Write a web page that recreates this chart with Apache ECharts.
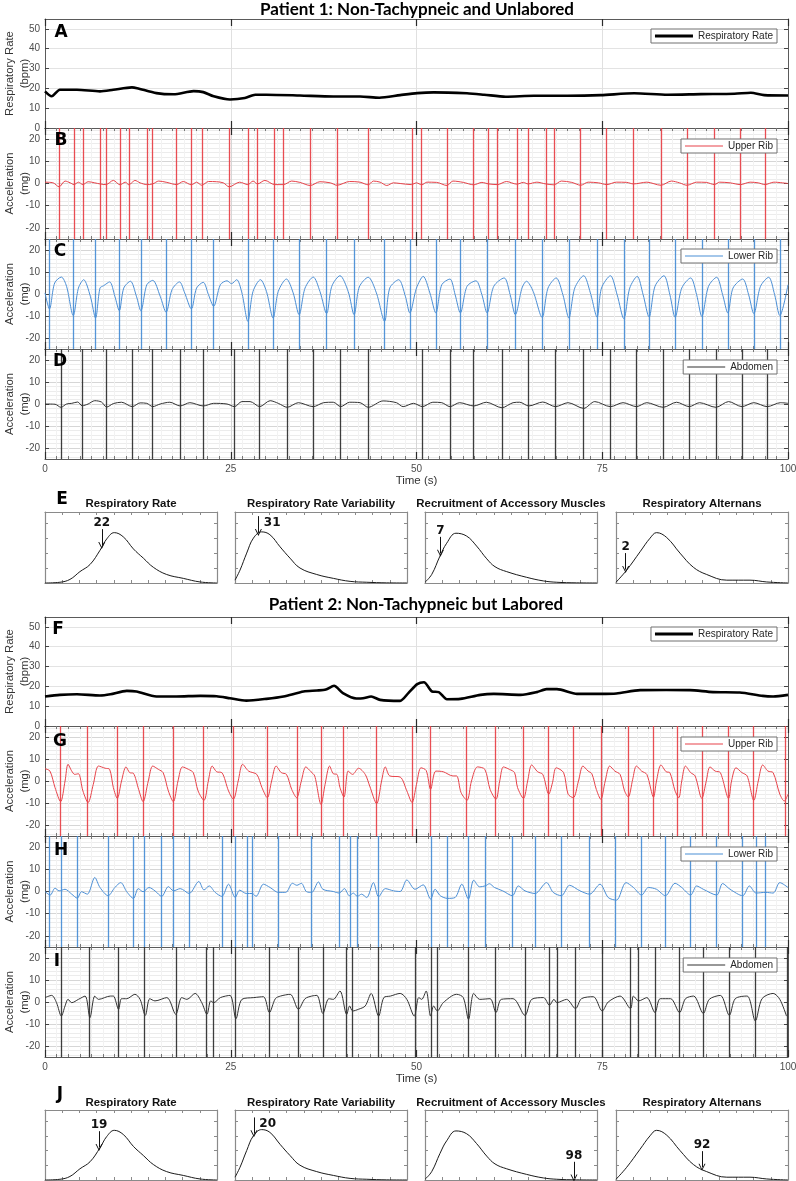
<!DOCTYPE html>
<html><head><meta charset="utf-8">
<script src="https://cdn.jsdelivr.net/npm/echarts@6/dist/echarts.min.js"></script>
<style>html,body{margin:0;padding:0;background:#fff}#c{width:796px;height:1181px}</style>
</head><body><div id="c"></div>
<script>
// ================= DATA =================
const timeTicks = [0, 25, 50, 75, 100];
const rrTicks = [0, 10, 20, 30, 40, 50];
const accTicks = [-20, -10, 0, 10, 20];

// Patient 1
const p1RespRate = [[0,18.5],[0.9,16],[2,19.3],[4.3,19.3],[7.4,18.5],[9.2,19.3],[11.7,20.5],[12.4,20.1],[15,17.6],[17.3,17],[20,18.6],[21.3,18.1],[22.7,16],[24.9,14.4],[26.9,15.1],[28.3,16.8],[29.8,16.8],[34.3,16.4],[38.8,15.9],[42.4,15.9],[45,15.3],[47.8,16.6],[50.1,17.6],[52.3,18],[56.8,17.5],[59.1,16.8],[62,15.8],[65.8,16.3],[70.3,16.3],[74.8,16.6],[79.3,17.5],[83.8,16.8],[88.3,17.1],[92.8,17.3],[95,17.8],[96.8,16.6],[100,16.4]];
const p1UpperRib = [[0,0.6],[1.1,0.3],[1.9,-1.5],[2.7,1.1],[3.4,0.3],[3.9,-0.5],[4.5,0.6],[5.1,-0.5],[5.8,0.8],[6.7,0.3],[7.4,-0.2],[8.2,-0.5],[9.2,1.4],[10.1,-0.6],[10.8,0.6],[11.3,-0.6],[12.1,1.4],[12.8,0.3],[13.7,-0.5],[14.5,-0.2],[15.3,1.1],[16.4,0.5],[17.7,-0.5],[18.6,0.9],[19.7,-0.6],[20.4,0.6],[21.1,-0.8],[22,0.9],[23.1,0.8],[24,0.3],[24.8,-1.5],[26.2,0.6],[27.3,-0.5],[28,1.1],[28.6,-0.2],[29.6,1.4],[30.9,-0.5],[32.1,-0.5],[33.2,1.1],[34.3,0.5],[35.7,-0.9],[37,0.8],[38.4,0.3],[39.3,-0.8],[41,0.9],[42.4,0.6],[43.5,-0.6],[44.2,1.1],[45.1,0.6],[46,-0.9],[46.9,0.3],[47.8,0],[49.3,-0.5],[50,0.3],[50.7,-0.6],[51.4,0.6],[52.7,0.5],[54.1,-0.9],[54.9,1.1],[56.3,0.5],[57.7,-0.6],[58.8,0.5],[59.7,-0.2],[60.9,-0.5],[62.1,0.9],[63.5,-0.3],[64.4,0.5],[65,-0.2],[66.2,0.6],[67.4,-0.2],[68.5,-0.6],[69.5,1.1],[70.9,0.5],[72.1,-0.8],[73.1,0.6],[74.5,0.3],[75.6,-0.5],[76.9,0.6],[78.3,0.5],[79.2,-0.2],[81,0.6],[82.9,-0.8],[84.3,1.1],[85.4,0.3],[86.4,-0.8],[87.7,0.6],[89,0.5],[90.1,-0.5],[90.8,0.6],[92.2,0.3],[93.6,-0.5],[94.9,0.6],[96,0.3],[96.9,-0.5],[98.1,0.6],[100,0]];
const p1UpperRibBreaths = [1.9,3.9,5.1,7.4,8.2,10.1,11.3,13.7,14.5,17.7,19.7,21.1,24.8,27.3,28.6,30.9,32.1,35.7,39.3,43.5,49.4,50.7,54.1,57.7,59.7,60.9,63.5,65.1,67.4,68.5,72.1,75.6,79.2,82.9,86.4,90.1,93.6,96.9];
const p1LowerRib = [[0,0.5],[0.6,-6.8],[1.3,5],[2.2,7.7],[2.9,3.5],[3.8,-9.8],[4.5,2.7],[5.2,6.5],[6.1,-1],[6.8,-10.9],[7.4,2.7],[7.9,3.8],[8.7,5.5],[9.4,-1],[10,-7.6],[10.6,2.7],[11.5,5.8],[12.3,-1],[12.9,-7.6],[13.7,4.2],[14.5,6.2],[15.5,-1],[16.3,-8.3],[17.1,2],[18.1,5.5],[18.8,0.5],[19.7,-6.8],[20.4,2.7],[21.3,5.3],[22,-0.3],[22.7,-5.6],[23.6,4.2],[24.5,6],[25.1,4.7],[25.8,6.5],[26.5,0.5],[27.3,-12.4],[28,1.2],[29,6.5],[29.8,1.2],[30.7,-10.9],[31.4,1.2],[32.5,6.8],[33.4,0.5],[34.2,-9.4],[35,2.7],[36.1,7.7],[37,1.2],[37.9,-8.9],[38.6,3.5],[39.7,8.3],[40.8,1.2],[41.6,-9.4],[42.3,3.2],[43.5,7.6],[44.6,0.5],[45.7,-12.4],[46.4,2.7],[47.6,6.5],[48.5,-1],[49.1,-8.6],[50,2.7],[50.9,8],[51.8,0.5],[52.6,-8.6],[53.4,4.2],[54.5,6.8],[55.2,-0.3],[55.9,-8.6],[56.8,3.5],[58,6],[58.8,-0.3],[59.5,-8.6],[60.4,3.5],[61.8,7.3],[62.6,-0.3],[63.3,-9.4],[64.2,2.7],[64.8,5.8],[65.7,1.2],[66.9,-10.6],[67.7,2.7],[68.8,7.3],[69.7,-0.3],[70.5,-10.9],[71.3,2.7],[72.5,8.3],[73.4,0.5],[74.3,-10.5],[74.9,2.7],[76.1,8.3],[77,-0.3],[77.9,-11.2],[78.7,2.7],[79.7,8],[80.5,-0.3],[81.3,-10.5],[82.1,3.5],[83.3,8.3],[84.1,-0.3],[84.8,-10.6],[85.7,2.7],[86.9,7.3],[87.7,-0.3],[88.4,-10.2],[89.3,3.5],[90.4,7.6],[91.2,-0.3],[91.9,-8.6],[92.6,2.7],[93.9,6.8],[94.7,-0.3],[95.4,-8.9],[96.3,3.5],[97.4,7.6],[98.2,-0.3],[98.9,-9.8],[100,4.2]];
const p1LowerRibBreaths = [0.6,3.8,6.8,10,12.9,16.3,19.7,22.7,27.3,30.7,34.2,37.9,41.6,45.7,49.1,52.6,55.9,59.5,63.3,66.9,70.5,74.3,77.9,81.3,84.8,88.4,91.9,95.4,98.9];
const p1Abdomen = [[0,0],[1.35,-0.1],[2.15,-1.5],[2.9,0],[3.6,0.3],[4.4,0.9],[5,-0.8],[5.8,0],[6.7,1.5],[7.6,0.9],[8.3,-1.4],[9.2,0.2],[10.3,0.8],[11.75,-1.2],[12.8,0.5],[13.7,0.3],[14.5,-1.2],[15.5,0],[16.8,0.8],[18.2,-0.9],[19.5,0.6],[21.3,-0.9],[22.7,0.3],[24.5,0],[25.5,-1.2],[26.5,1.1],[27.6,1.1],[28.9,-1.2],[30.3,1.5],[31.4,0.3],[32.6,-1.5],[34.1,0.6],[36.1,-1.2],[37.5,0.6],[38.8,0.8],[39.8,-1.2],[41,0.8],[42.4,0.6],[43.5,-1.5],[45.5,1.4],[47.3,0.6],[48.2,-1.2],[49.6,0.3],[50.8,-1.2],[52.2,0.8],[53.4,0.6],[54.5,-1.2],[55.8,0.6],[57.7,-0.9],[59.4,0.8],[61.5,-1.7],[63,0.6],[63.9,0.8],[65.1,-0.9],[67,0.9],[68.7,-1.2],[70.4,0.6],[72.5,-2],[74,1.1],[76.1,-1.2],[77.8,0.6],[79.6,-1.2],[81,0.6],[83.2,-1.5],[85,0.8],[86.7,-1.2],[88.1,0.6],[90.3,-1.5],[92,1.1],[93.8,-1.2],[95.4,0.6],[97.2,-1.2],[99,0.6],[100,0.3]];
const p1AbdomenBreaths = [2.15,5,8.3,11.75,14.5,18.2,21.3,25.5,28.9,32.6,36.1,39.8,43.5,50.8,54.5,57.7,61.5,65.1,68.7,72.5,76.1,79.6,83.2,86.7,90.3,93.8,97.2];

// Patient 2
const p2RespRate = [[0,14.9],[2,15.7],[4.3,16],[7.4,15.4],[8.8,16],[11,17.7],[12.3,17.4],[15,14.9],[17.7,14.9],[20.9,15.2],[23.1,15],[24.9,14],[27.1,12.8],[29.8,13.7],[32.1,14.9],[34.8,17.4],[36.6,17.9],[37.8,18.4],[38.9,20.3],[40.1,16.6],[41.9,13.9],[42.8,14],[43.9,14.9],[45.1,13.2],[47.8,12.7],[48.9,16.6],[50.1,21.1],[51,22.1],[52.1,17.4],[53,17.1],[54.1,13.5],[55.9,13.7],[58.6,15.7],[60.4,16.2],[64,15.7],[66.2,17.1],[67.5,18.6],[68.9,18.6],[71.6,16.2],[74.7,16.2],[76.9,16.4],[80.1,18.1],[83.6,18.2],[86.8,18.1],[89.9,17.1],[93.5,16.9],[96.6,15.2],[98,14.9],[100,15.7]];
const p2UpperRib = [[0,5.6],[0.67,4.5],[1.35,-3],[2.1,-9.4],[2.7,0],[3.1,7.6],[3.6,4.5],[4,3],[4.5,3.3],[5.1,-4.5],[5.8,-9.8],[6.5,-1.5],[7.2,6.8],[8.1,5.8],[8.7,5.3],[9.2,-3],[9.73,-7.9],[10.3,0],[10.9,6.4],[11.4,3.8],[11.9,3.5],[12.6,-3.8],[13.2,-9.4],[13.9,0],[14.5,6.8],[15.25,5.3],[15.9,3.8],[16.6,-4.5],[17.27,-9.4],[17.9,0],[18.5,6.4],[19.3,5.3],[19.96,3.8],[20.6,-4.5],[21.4,-8.8],[21.98,0],[22.5,6.8],[23.1,4.2],[23.8,3.8],[24.7,-4.5],[25.35,-8.3],[26,0],[26.6,7.6],[27.4,4.5],[28.5,3],[29.2,-3],[29.92,-7.6],[30.5,0],[31.1,6.8],[31.8,3.8],[32.5,3],[33.2,-3.8],[33.87,-7.6],[34.5,0],[35.1,6.4],[35.8,4.2],[36.3,2.3],[37.15,-10.6],[37.7,-1.5],[38.3,6.8],[38.8,3.3],[39.3,3],[39.7,-3],[40.24,-7.3],[40.8,4.5],[41.4,3],[42.2,5.8],[43.1,3],[43.7,-2.3],[44.64,-10.3],[45.3,0],[45.8,6.4],[46.4,2.3],[47.8,1.8],[48.7,-4.5],[49.4,-9.8],[50,-1.5],[50.6,6],[51.3,4.8],[51.9,-3.8],[52.6,4.5],[53.6,4.2],[54.9,2.3],[55.4,2.3],[56,-5.3],[56.8,-8.8],[57.4,0],[58.2,6.4],[59.2,5.3],[59.9,-3.8],[60.7,-8.3],[61.2,0],[61.7,6.4],[62.5,5.3],[63.2,3.8],[63.6,-3],[64.4,-7.9],[64.96,0],[65.5,7.3],[66.3,4.2],[67,3],[67.8,-6],[68.3,-0.8],[68.8,6],[69.8,3.8],[70.4,-6],[71.1,-7.6],[71.8,0],[72.4,6.8],[73.1,4.5],[73.6,3.3],[74.2,-3.8],[74.8,-8.3],[75.4,0],[76,6.8],[76.7,4.5],[77.4,3],[78,-4.5],[78.5,-7.3],[79.1,0.8],[79.6,6.8],[80.3,4.5],[81,3],[81.9,-7.3],[82.3,0],[82.9,7.3],[83.6,4.2],[84.1,3.8],[84.8,-4.5],[85.3,-7.6],[85.7,0],[86.2,6.8],[86.9,3.8],[87.5,2.3],[88.4,-7.9],[89,0],[89.5,6.4],[90.2,4.5],[90.9,3.8],[92,-7.9],[92.4,0],[93,6],[93.8,3.8],[94.5,2.3],[95.4,-8.8],[96,0],[96.6,7.3],[97.3,4.5],[98,3.8],[98.9,-6],[99.5,-9.1],[100,-6]];
const p2UpperRibBreaths = [2,5.7,9.7,13.2,17.3,21.3,25.3,29.9,33.9,37.2,40.2,44.6,49.4,51.8,56.7,60.6,64.4,67.7,71.1,74.8,78.5,81.8,85.1,88.4,91.9,95.3,99.6];
const p2LowerRib = [[0,0],[0.7,-1.6],[1.35,1.5],[1.9,0.3],[2.7,1],[3.6,-1.2],[4.35,-3],[4.9,-0.1],[5.7,-1.2],[6.7,6.3],[7.4,1.8],[8.5,-1.9],[9.4,1.8],[10.2,4],[11,-0.1],[11.9,-3.1],[12.55,1.3],[13.2,-0.1],[14,1.8],[14.8,0.3],[15.7,-2.2],[16.6,2.2],[17.3,0.3],[18.2,1.3],[19.4,-0.9],[20.7,4.5],[21.4,0.7],[22.1,2.5],[22.9,-0.4],[23.8,-2.2],[24.7,3.3],[25.6,-2.7],[26.2,0.6],[27.1,-0.9],[27.9,-0.9],[28.4,-2.2],[29.4,3.3],[30.3,1.8],[31.4,-0.4],[32.4,-0.4],[33.3,3.7],[33.9,2.8],[34.5,3.7],[35.2,-0.1],[35.9,-0.4],[36.8,4.3],[37.4,1],[38.8,0],[39.6,-0.7],[40.3,1.3],[40.96,-1.9],[41.5,-0.7],[42.04,-2.2],[42.6,-1.2],[43.3,-2.7],[44.2,4],[44.9,-2.4],[45.8,1.3],[46.9,0.3],[47.8,0],[48.7,5.2],[49.8,1],[50.9,3],[51.9,-3.4],[52.5,1],[53.2,-1.9],[54.2,-3.1],[55.2,-2.7],[56.1,3.3],[56.98,-3.4],[57.7,5.1],[58.5,2.1],[59.3,2.6],[59.8,3.5],[60.5,1.8],[61.6,0.3],[62.9,-1.9],[63.7,2.5],[64.6,0.3],[65.95,-0.9],[67.5,4],[68.4,-0.4],[69.5,-1.9],[70.6,2.8],[72,0.3],[73.3,-1.2],[74.7,3.3],[75.8,-2.7],[76.9,-3.9],[78.2,4],[79.2,1.8],[80.3,-1.6],[81.2,1.8],[82.3,1],[83.5,-1.9],[84.8,3.7],[85.7,1.8],[86.9,-1.6],[87.7,2.5],[88.6,1],[90.4,-1.6],[91.2,3.6],[92.2,1],[93.9,-1.9],[94.8,2.5],[95.7,-0.7],[97,-0.4],[98,-0.7],[98.9,4],[100,1.8]];
const p2LowerRibBreaths = [0.6,2.2,4.35,8.5,11.9,13.3,15.7,17.2,19.4,23.8,25.6,27.2,27.9,31.4,35.9,39.6,41.05,42,44.9,52,54.2,57,59.3,62.9,65.95,69.5,73.3,76.7,80.3,83.5,86.9,90.4,93.9,95.7,97];
const p2Abdomen = [[0,2],[0.9,3],[1.55,-0.3],[2.2,-6.4],[2.7,-1.8],[3.1,1.2],[3.6,-0.3],[4.5,1.2],[5.4,2.7],[6.05,-7.1],[6.7,2.7],[7.2,1.2],[8.8,2.7],[9.2,2.7],[9.9,-3.3],[10.3,1.5],[11,1.5],[12.1,3.5],[12.8,1.2],[13.5,-6.1],[14.1,1.5],[14.8,0.5],[16.4,2],[17.6,-5.6],[18.4,2],[19.1,1.2],[20.2,3.9],[21.1,-0.3],[21.8,-5.6],[22.3,0.5],[22.7,-0.3],[23.6,2],[24.9,3],[25.7,-7.6],[26.5,1.2],[28.1,2],[29.4,2.4],[30.2,-4.8],[31,1.5],[31.7,2.7],[33,3.5],[34.1,-3.3],[35,1.5],[35.9,2.7],[36.6,3],[37.4,-5.2],[38.2,1.5],[38.8,1.2],[39.7,5],[40.6,-5.6],[41,-1.8],[41.4,-4.1],[42.2,-3.3],[43.1,-1.8],[43.9,3.9],[44.9,-6.4],[45.6,2],[46.5,2.7],[47.8,3.9],[48.7,1.2],[49.7,-6.4],[50.3,2],[50.7,1.2],[51.3,5],[51.9,-6.4],[52.3,-1.8],[52.8,-4.1],[53.6,-0.3],[55.4,3.5],[56.3,2],[57,-7.9],[57.7,3.9],[58.5,1.2],[59.9,1.5],[60.7,-4.8],[61.4,1.2],[63,1.5],[64.6,-6.1],[65.5,1.2],[67.1,2],[67.9,-1.5],[68.5,1.2],[68.9,-0.3],[70.2,1.2],[71.4,-3],[72.2,1.5],[73.8,2.4],[75,-4.1],[75.8,0],[77.4,2.7],[78.8,-3],[79.2,2.7],[79.9,0.5],[81,2],[82.1,-4.8],[82.8,1.5],[84.2,1.5],[85.4,-4.8],[86.2,1.5],[87.3,2.7],[88.6,-5.2],[89.4,1.2],[90.9,3],[92.1,-6.1],[92.9,1.5],[94.5,2.7],[95.6,-8.6],[96.5,1.5],[98,3.9],[98.9,1.2],[99.8,-6.4]];
const p2AbdomenBreaths = [2.15,5.96,9.8,13.4,17.6,21.7,22.7,25.6,30.2,34.1,37.4,40.6,41.4,44.8,49.8,52,52.8,57,60.6,64.6,67.9,68.9,71.4,75,78.8,79.9,82.1,85.4,88.6,92.1,95.6,99.9];

// Population distributions (x: position along feature axis in %, y: density)
const distTitles = ['Respiratory Rate', 'Respiratory Rate Variability', 'Recruitment of Accessory Muscles', 'Respiratory Alternans'];
const distRespRate = [[0,0],[8.7,0.05],[14.5,0.24],[20.3,0.76],[26.2,1.24],[32,2.19],[35.9,2.95],[40.3,3.37],[45.5,3.09],[51.4,2.28],[57.2,1.66],[63,1.05],[70.7,0.57],[80.4,0.31],[90.1,0.07],[100,0]];
const distRRV = [[0,0.19],[2.9,0.86],[6.8,2.0],[10.7,3.0],[15.5,3.42],[20.3,3.23],[26.2,2.42],[32,1.66],[37.8,1.0],[47.5,0.57],[57.2,0.31],[66.9,0.11],[76.6,0.05],[88,0.01],[100,0]];
const distAccessory = [[0,0.05],[3.9,0.57],[8.7,1.8],[12.6,2.66],[18,3.33],[24.2,3.14],[30,2.47],[35.9,1.62],[40.7,1.09],[47.5,0.76],[59.1,0.38],[68.8,0.14],[76.6,0.05],[88,0.01],[100,0]];
const distAlternans = [[0,0.05],[6.2,0.86],[14,2.09],[19.8,3.0],[23.6,3.37],[29.5,3.04],[37.2,2.0],[45,1.05],[52.7,0.57],[64.4,0.19],[77.9,0.19],[87.6,0.07],[100,0]];
const p1Percentiles = ['22', '31', '7', '2'];
const p1FeatureAt = [33, 13.6, 9, 5.6];
const p2Percentiles = ['19', '20', '98', '92'];
const p2FeatureAt = [31.4, 11, 86.6, 50];

// ================= BUILD =================
const FONT = '"Liberation Sans", Arial, Helvetica, sans-serif';
const RED = '#e8434a', BLUE = '#4b8fd6', DARK = '#333333';
const grids = [], xAxes = [], yAxes = [], series = [], legends = [], gfx = [];
const TR = 'rgba(0,0,0,0)', MINC = '#ececec', MAJC = '#d6d6d6';

function mainPanel(c) {
  const g = grids.length;
  grids.push({left: 45, top: c.top, width: 743, height: c.h, containLabel: false, outerBoundsMode: 'none'});
  const isRR = c.kind === 'rr';
  const minor = !isRR;
  const xb = xAxes.length;
  const xCommon = {gridIndex: g, type: 'value', min: 0, max: 100, interval: 25,
    axisLine: {show: true, onZero: false, lineStyle: {color: '#5a5a5a', width: 1}},
    axisTick: {show: true, inside: true, length: 7, lineStyle: {color: '#2b2b2b', width: 1.2}},
    minorTick: {show: minor, splitNumber: 16, length: 3, lineStyle: {color: '#777', width: 1}}};
  xAxes.push(Object.assign({}, xCommon, {position: 'bottom',
    splitLine: {show: true, lineStyle: {color: isRR ? '#e0e0e0' : MAJC, width: 1}},
    minorSplitLine: {show: minor, lineStyle: {color: '#f2f2f2', width: 1}},
    axisLabel: {show: !!c.timeLabels, customValues: timeTicks, color: '#4d4d4d', fontSize: 10, fontFamily: FONT, margin: 5},
    name: c.timeLabels ? 'Time (s)' : '', nameLocation: 'middle', nameGap: 16, nameMoveOverlap: false,
    nameTextStyle: {color: '#333', fontSize: 11.5, fontFamily: FONT}}));
  xAxes.push(Object.assign({}, xCommon, {position: 'top', splitLine: {show: false}, minorSplitLine: {show: false}, axisLabel: {show: false}}));
  const ticks = isRR ? rrTicks : accTicks;
  const min = isRR ? 0 : -25, max = isRR ? 55 : 25;
  const yl = yAxes.length;
  yAxes.push({gridIndex: g, type: 'value', min: min, max: max, position: 'left',
    axisLine: {show: true, onZero: false, lineStyle: {color: '#5a5a5a', width: 1}},
    axisTick: {show: true, inside: true, length: 4, customValues: ticks, lineStyle: {color: '#444'}},
    axisLabel: {show: true, customValues: ticks, color: '#4d4d4d', fontSize: 10, fontFamily: FONT, margin: 5},
    splitLine: {show: false},
    name: isRR ? 'Respiratory Rate\n(bpm)' : 'Acceleration\n(mg)', nameLocation: 'middle', nameRotate: 90, nameGap: 12.5,
    nameMoveOverlap: false,
    nameTextStyle: {color: '#333', fontSize: 11.3, fontFamily: FONT, lineHeight: 15}});
  yAxes.push({gridIndex: g, type: 'value', min: min, max: max, position: 'right',
    axisLine: {show: true, onZero: false, lineStyle: {color: '#5a5a5a', width: 1}},
    axisTick: {show: true, inside: true, length: 4, customValues: ticks, lineStyle: {color: '#444'}},
    axisLabel: {show: false}, splitLine: {show: false}});
  yAxes.push({gridIndex: g, type: 'value', min: min, max: max, interval: isRR ? 10 : 1, position: 'left',
    axisLine: {show: false}, axisTick: {show: false}, axisLabel: {show: false},
    splitLine: {show: true, lineStyle: {color: isRR ? '#e3e3e3' : [TR, MINC, TR, MINC, TR, MAJC, TR, MINC, TR, MINC], width: 1}}});
  const s = {type: 'line', name: c.name, xAxisIndex: xb, yAxisIndex: yl, data: c.data,
    showSymbol: false, symbol: 'none', smooth: isRR ? 0.25 : 0.3, animation: false, silent: true, z: 3,
    lineStyle: {color: c.color, width: isRR ? 2.6 : 1}, itemStyle: {color: c.color}};
  if (c.breaths) {
    s.markLine = {silent: true, animation: false, symbol: ['none', 'none'], label: {show: false},
      lineStyle: {color: c.color, width: 1.3, type: 'solid', opacity: 0.95},
      emphasis: {disabled: true},
      data: c.breaths.map(t => ({xAxis: t}))};
  }
  series.push(s);
  legends.push({data: [c.name], right: 19, top: c.legendTop, icon: 'rect', itemWidth: 38, itemHeight: isRR ? 3 : 1,
    padding: [2, 4, 2, 4], borderColor: '#707070', borderWidth: 1, backgroundColor: '#fff', selectedMode: false,
    textStyle: {fontFamily: FONT, fontSize: 10, color: '#262626'}, z: 20});
  gfx.push({type: 'text', x: c.letterX, y: c.letterY, z: 30,
    style: {text: c.letter, font: 'bold 17px "DejaVu Sans", sans-serif', fill: '#000', align: 'center', verticalAlign: 'middle', textAlign: 'center', textVerticalAlign: 'middle'}});
}

function interp(curve, x) {
  for (let i = 1; i < curve.length; i++) {
    if (x <= curve[i][0]) {
      const a = curve[i - 1], b = curve[i];
      return a[1] + (b[1] - a[1]) * (x - a[0]) / (b[0] - a[0]);
    }
  }
  return curve[curve.length - 1][1];
}

const dists = [distRespRate, distRRV, distAccessory, distAlternans];
const distLefts = [45, 235, 425, 616];
const ARROW = 'path://M0,10 L5,0 L10,10 L8.6,10 L5,2.8 L1.4,10 Z';

function distRow(top, h, percentiles, featureAt, titleY) {
  for (let k = 0; k < 4; k++) {
    const g = grids.length;
    grids.push({left: distLefts[k], top: top, width: 172, height: h, containLabel: false, outerBoundsMode: 'none'});
    const xb = xAxes.length;
    const xc = {gridIndex: g, type: 'value', min: 0, max: 100, interval: 10,
      axisLine: {show: true, onZero: false, lineStyle: {color: '#8a8a8a', width: 1.2}},
      axisTick: {show: true, inside: true, length: 3, lineStyle: {color: '#8a8a8a'}},
      axisLabel: {show: false}, splitLine: {show: false}};
    xAxes.push(Object.assign({position: 'bottom'}, xc));
    xAxes.push(Object.assign({position: 'top'}, xc));
    const yl = yAxes.length;
    const yc = {gridIndex: g, type: 'value', min: 0, max: 4.75, interval: 1,
      axisLine: {show: true, onZero: false, lineStyle: {color: '#8a8a8a', width: 1.2}},
      axisTick: {show: true, inside: true, length: 3, lineStyle: {color: '#8a8a8a'}},
      axisLabel: {show: false}, splitLine: {show: false}};
    yAxes.push(Object.assign({position: 'left'}, yc));
    yAxes.push(Object.assign({position: 'right'}, yc));
    const ax = featureAt[k];
    const tip = interp(dists[k], ax) + 0.12;
    const topY = tip + 1.1;
    let lx = ax, ly = topY + 0.42;
    if (ly > 4.45) { lx = ax + 8; ly = topY - 0.45; }
    series.push({type: 'line', name: distTitles[k] + ' distribution ' + g, xAxisIndex: xb, yAxisIndex: yl,
      data: dists[k], showSymbol: false, symbol: 'none', smooth: 0.4, animation: false, silent: true,
      lineStyle: {color: '#1a1a1a', width: 1}, itemStyle: {color: '#1a1a1a'},
      markLine: {silent: true, animation: false, symbol: ['none', ARROW], symbolSize: [7, 7],
        label: {show: false}, lineStyle: {color: '#111', width: 1, type: 'solid'}, emphasis: {disabled: true},
        data: [[{coord: [ax, topY]}, {coord: [ax, tip]}]]},
      markPoint: {silent: true, animation: false, symbol: 'circle', symbolSize: 0.1, itemStyle: {color: 'rgba(0,0,0,0)'},
        label: {show: true, position: 'inside', formatter: '{b}', color: '#111', fontWeight: 'bold', fontSize: 12, fontFamily: '"DejaVu Sans", sans-serif'},
        data: [{name: percentiles[k], coord: [lx, ly]}]}});
    gfx.push({type: 'text', x: distLefts[k] + 86, y: titleY, z: 30,
      style: {text: distTitles[k], font: 'bold 11.4px ' + FONT, fill: '#111', align: 'center', verticalAlign: 'middle', textAlign: 'center', textVerticalAlign: 'middle'}});
  }
}

// Patient 1
mainPanel({kind: 'rr', top: 19, h: 109, data: p1RespRate, name: 'Respiratory Rate', color: '#000', legendTop: 29, letter: 'A', letterX: 61, letterY: 33});
mainPanel({kind: 'acc', top: 128, h: 111, data: p1UpperRib, breaths: p1UpperRibBreaths, name: 'Upper Rib', color: RED, legendTop: 139, letter: 'B', letterX: 61, letterY: 141});
mainPanel({kind: 'acc', top: 239, h: 110, data: p1LowerRib, breaths: p1LowerRibBreaths, name: 'Lower Rib', color: BLUE, legendTop: 249, letter: 'C', letterX: 60, letterY: 252});
mainPanel({kind: 'acc', top: 349, h: 110, data: p1Abdomen, breaths: p1AbdomenBreaths, name: 'Abdomen', color: DARK, legendTop: 360, letter: 'D', letterX: 60, letterY: 362, timeLabels: true});
distRow(512, 71, p1Percentiles, p1FeatureAt, 504);
// Patient 2
mainPanel({kind: 'rr', top: 617, h: 109, data: p2RespRate, name: 'Respiratory Rate', color: '#000', legendTop: 627, letter: 'F', letterX: 58, letterY: 630});
mainPanel({kind: 'acc', top: 726, h: 110, data: p2UpperRib, breaths: p2UpperRibBreaths, name: 'Upper Rib', color: RED, legendTop: 737, letter: 'G', letterX: 60, letterY: 742});
mainPanel({kind: 'acc', top: 836, h: 111, data: p2LowerRib, breaths: p2LowerRibBreaths, name: 'Lower Rib', color: BLUE, legendTop: 847, letter: 'H', letterX: 61, letterY: 851});
mainPanel({kind: 'acc', top: 947, h: 110, data: p2Abdomen, breaths: p2AbdomenBreaths, name: 'Abdomen', color: DARK, legendTop: 958, letter: 'I', letterX: 57, letterY: 962, timeLabels: true});
distRow(1110, 70, p2Percentiles, p2FeatureAt, 1103);

gfx.push({type: 'text', x: 417, y: 10, z: 30, style: {text: 'Patient 1: Non-Tachypneic and Unlabored', font: 'bold 17px Lato, "Open Sans", sans-serif', fill: '#000', align: 'center', verticalAlign: 'middle', textAlign: 'center', textVerticalAlign: 'middle'}});
gfx.push({type: 'text', x: 416, y: 605, z: 30, style: {text: 'Patient 2: Non-Tachypneic but Labored', font: 'bold 17px Lato, "Open Sans", sans-serif', fill: '#000', align: 'center', verticalAlign: 'middle', textAlign: 'center', textVerticalAlign: 'middle'}});
gfx.push({type: 'text', x: 62, y: 500, z: 30, style: {text: 'E', font: 'bold 17px "DejaVu Sans", sans-serif', fill: '#000', align: 'center', verticalAlign: 'middle', textAlign: 'center', textVerticalAlign: 'middle'}});
gfx.push({type: 'text', x: 60, y: 1095, z: 30, style: {text: 'J', font: 'bold 17px "DejaVu Sans", sans-serif', fill: '#000', align: 'center', verticalAlign: 'middle', textAlign: 'center', textVerticalAlign: 'middle'}});

const chart = echarts.init(document.getElementById('c'), null, {renderer: 'canvas'});
chart.setOption({
  backgroundColor: '#fff', animation: false,
  grid: grids, xAxis: xAxes, yAxis: yAxes, series: series, legend: legends,
  graphic: {elements: gfx}
});
</script></body></html>
